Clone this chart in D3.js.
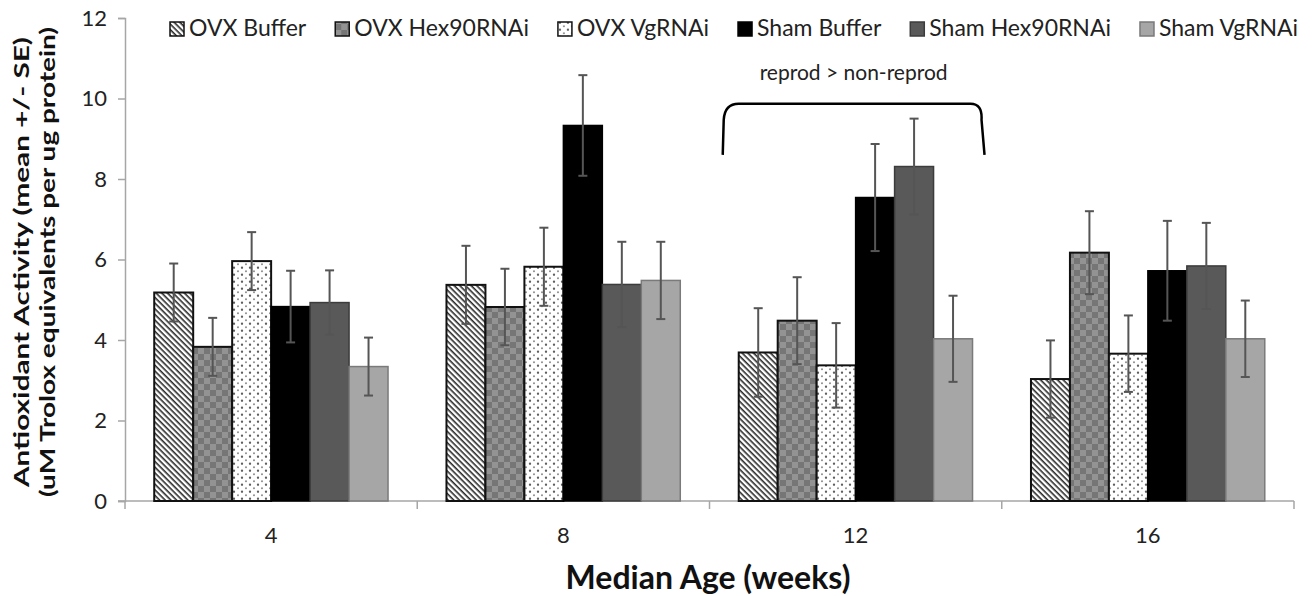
<!DOCTYPE html>
<html>
<head>
<meta charset="utf-8">
<script src="https://cdn.jsdelivr.net/npm/d3@7"></script>
<style>
  html, body { margin: 0; padding: 0; background: #fff; }
  svg { display: block; font-family: Lato, "Open Sans", sans-serif; }
</style>
</head>
<body>
<svg id="chart" width="1314" height="596"></svg>
<script>
// Median age groups (weeks)
const categories = ["4", "8", "12", "16"];

// Treatment groups
const seriesNames = ["OVX Buffer", "OVX Hex90RNAi", "OVX VgRNAi", "Sham Buffer", "Sham Hex90RNAi", "Sham VgRNAi"];

// Mean antioxidant activity per group, one value per age
const ovxBuffer     = [5.18, 5.37, 3.69, 3.03];
const ovxHex90      = [3.83, 4.82, 4.48, 6.17];
const ovxVg         = [5.96, 5.82, 3.37, 3.66];
const shamBuffer    = [4.83, 9.33, 7.54, 5.72];
const shamHex90     = [4.93, 5.38, 8.31, 5.84];
const shamVg        = [3.34, 5.48, 4.03, 4.03];

// Standard errors
const ovxBufferSE   = [0.72, 0.97, 1.10, 0.96];
const ovxHex90SE    = [0.72, 0.95, 1.08, 1.03];
const ovxVgSE       = [0.72, 0.97, 1.05, 0.95];
const shamBufferSE  = [0.89, 1.25, 1.33, 1.24];
const shamHex90SE   = [0.80, 1.06, 1.19, 1.07];
const shamVgSE      = [0.72, 0.96, 1.07, 0.95];

// Y axis ticks
const yTicks = [0, 2, 4, 6, 8, 10, 12];

// Significance note over the 12-week group
const noteCategory = "12";
const noteText = "reprod > non-reprod";
const noteBracket = [8.6, 9.87];   // bracket foot and top, in y units
const noteLabelY = 10.46;

const means = [ovxBuffer, ovxHex90, ovxVg, shamBuffer, shamHex90, shamVg];
const errors = [ovxBufferSE, ovxHex90SE, ovxVgSE, shamBufferSE, shamHex90SE, shamVgSE];

const svg = d3.select("#chart");

const plotLeft = 125, plotRight = 1294, plotTop = 18, plotBottom = 501;

const x0 = d3.scaleBand().domain(categories).range([plotLeft, plotRight]).padding(0);
const x1 = d3.scaleBand().domain(seriesNames).range([0, x0.bandwidth()])
  .paddingInner(0).paddingOuter(0.75);
const y = d3.scaleLinear().domain([0, 12]).range([plotBottom, plotTop]);

// ---- fill patterns ----
const defs = svg.append("defs");

// diagonal hatch
const hatch = defs.append("pattern").attr("id", "pHatch")
  .attr("patternUnits", "userSpaceOnUse").attr("width", 4).attr("height", 4)
  .attr("patternTransform", "rotate(45)");
hatch.append("rect").attr("width", 4).attr("height", 4).attr("fill", "#fff");
hatch.append("rect").attr("width", 4).attr("height", 1.6).attr("fill", "#2a2a2a");

// gray checked weave
const check = defs.append("pattern").attr("id", "pCheck")
  .attr("patternUnits", "userSpaceOnUse").attr("width", 12).attr("height", 12);
check.append("rect").attr("width", 12).attr("height", 12).attr("fill", "#8e8e8e");
check.append("rect").attr("width", 6).attr("height", 6).attr("fill", "#6c6c6c");
check.append("rect").attr("x", 6).attr("y", 6).attr("width", 6).attr("height", 6).attr("fill", "#6c6c6c");
for (let i = 0; i < 6; i++) {
  for (let j = 0; j < 6; j++) {
    check.append("rect").attr("x", i * 2 + 0.5).attr("y", j * 2 + 0.5)
      .attr("width", 1).attr("height", 1).attr("fill", "#b4b4b4").attr("opacity", 0.6);
  }
}

// dotted
const dots = defs.append("pattern").attr("id", "pDots")
  .attr("patternUnits", "userSpaceOnUse").attr("width", 8).attr("height", 7);
dots.append("rect").attr("width", 8).attr("height", 7).attr("fill", "#fff");
dots.append("circle").attr("cx", 2).attr("cy", 1.75).attr("r", 1.15).attr("fill", "#5e5e5e");
dots.append("circle").attr("cx", 6).attr("cy", 5.25).attr("r", 1.05).attr("fill", "#909090");

const fills   = ["url(#pHatch)", "url(#pCheck)", "url(#pDots)", "#000000", "#595959", "#a6a6a6"];
const strokes = ["#111", "#111", "#111", "#000", "#3c3c3c", "#7a7a7a"];
const strokeW = [2, 2, 2, 1.5, 1.5, 1.5];

// ---- axes ----
const axisColor = "#a6a6a6";

const yAxis = svg.append("g").attr("transform", `translate(${plotLeft},0)`)
  .call(d3.axisLeft(y).tickValues(yTicks).tickSize(7).tickPadding(11).tickFormat(d3.format("d")));
yAxis.select(".domain").attr("stroke", axisColor).attr("stroke-width", 1.5);
yAxis.selectAll(".tick line").attr("stroke", axisColor).attr("stroke-width", 1.5);
yAxis.selectAll(".tick text").attr("font-family", "Lato").attr("font-size", 22).attr("fill", "#222");

// x baseline extends to the left tick end, with downward ticks on category edges
svg.append("line").attr("x1", plotLeft - 7).attr("x2", plotRight)
  .attr("y1", y(0)).attr("y2", y(0)).attr("stroke", axisColor).attr("stroke-width", 1.5);
const edges = categories.map(c => x0(c)).concat([x0(categories[categories.length - 1]) + x0.bandwidth()]);
svg.append("g").selectAll("line").data(edges).join("line")
  .attr("x1", d => d).attr("x2", d => d)
  .attr("y1", y(0)).attr("y2", y(0) + 8)
  .attr("stroke", axisColor).attr("stroke-width", 1.5);
svg.append("g").selectAll("text").data(categories).join("text")
  .attr("x", d => x0(d) + x0.bandwidth() / 2).attr("y", 543)
  .attr("text-anchor", "middle").attr("font-size", 22).attr("fill", "#222")
  .text(d => d);

// ---- bars ----
const barData = [];
seriesNames.forEach((s, si) => {
  categories.forEach((c, ci) => {
    barData.push({ s, si, c, v: means[si][ci], e: errors[si][ci] });
  });
});

svg.append("g").selectAll("rect").data(barData).join("rect")
  .attr("x", d => x0(d.c) + x1(d.s))
  .attr("y", d => y(d.v))
  .attr("width", x1.bandwidth())
  .attr("height", d => y(0) - y(d.v))
  .attr("fill", d => fills[d.si])
  .attr("stroke", d => strokes[d.si])
  .attr("stroke-width", d => strokeW[d.si]);

// ---- error bars ----
const eb = svg.append("g").attr("stroke", "#555").attr("stroke-width", 2);
const cap = 4.5;
const cx = d => x0(d.c) + x1(d.s) + x1.bandwidth() / 2;
eb.selectAll("line.v").data(barData).join("line").attr("class", "v")
  .attr("x1", cx).attr("x2", cx)
  .attr("y1", d => y(d.v + d.e)).attr("y2", d => y(d.v - d.e));
eb.selectAll("line.t").data(barData).join("line").attr("class", "t")
  .attr("x1", d => cx(d) - cap).attr("x2", d => cx(d) + cap)
  .attr("y1", d => y(d.v + d.e)).attr("y2", d => y(d.v + d.e));
eb.selectAll("line.b").data(barData).join("line").attr("class", "b")
  .attr("x1", d => cx(d) - cap).attr("x2", d => cx(d) + cap)
  .attr("y1", d => y(d.v - d.e)).attr("y2", d => y(d.v - d.e));

// ---- significance bracket ----
const bL = x0(noteCategory) + x1(seriesNames[0]) - 16;
const bR = x0(noteCategory) + x1(seriesNames[seriesNames.length - 1]) + x1.bandwidth() + 12;
const yFoot = y(noteBracket[0]), yTopB = y(noteBracket[1]);
const bp = d3.path();
bp.moveTo(bL, yFoot);
bp.lineTo(bL + 1, yTopB + 16);
bp.quadraticCurveTo(bL + 2, yTopB, bL + 16, yTopB);
bp.lineTo(bR - 14, yTopB);
bp.quadraticCurveTo(bR - 2, yTopB, bR - 3, yTopB + 16);
bp.lineTo(bR, yFoot);
svg.append("path").attr("d", bp.toString()).attr("fill", "none")
  .attr("stroke", "#000").attr("stroke-width", 2.5);
svg.append("text").attr("x", (bL + bR) / 2).attr("y", y(noteLabelY))
  .attr("text-anchor", "middle").attr("font-size", 21).attr("fill", "#222")
  .text(noteText);

// ---- axis titles ----
const yt = svg.append("text").attr("transform", "translate(0,262) rotate(-90)")
  .attr("text-anchor", "middle").attr("font-weight", "bold").attr("font-size", 21).attr("fill", "#111");
yt.append("tspan").attr("x", 0).attr("y", 29)
  .attr("textLength", 450).attr("lengthAdjust", "spacingAndGlyphs")
  .text("Antioxidant Activity (mean +/- SE)");
yt.append("tspan").attr("x", 0).attr("y", 55)
  .attr("textLength", 470).attr("lengthAdjust", "spacingAndGlyphs")
  .text("(uM Trolox equivalents per ug protein)");

svg.append("text").attr("x", 708).attr("y", 589)
  .attr("text-anchor", "middle").attr("font-weight", "bold").attr("font-size", 32).attr("fill", "#111")
  .text("Median Age (weeks)");

// ---- legend ----
const legend = svg.append("g");
let lx = 170;
seriesNames.forEach((s, i) => {
  const g = legend.append("g").attr("transform", `translate(${lx},0)`);
  g.append("rect").attr("x", 0).attr("y", 22).attr("width", 14).attr("height", 14)
    .attr("fill", fills[i]).attr("stroke", strokes[i]).attr("stroke-width", 1.5);
  const t = g.append("text").attr("x", 19).attr("y", 36).attr("font-size", 23).attr("fill", "#222").text(s);
  lx += 19 + t.node().getComputedTextLength() + 29;
});
</script>
</body>
</html>
